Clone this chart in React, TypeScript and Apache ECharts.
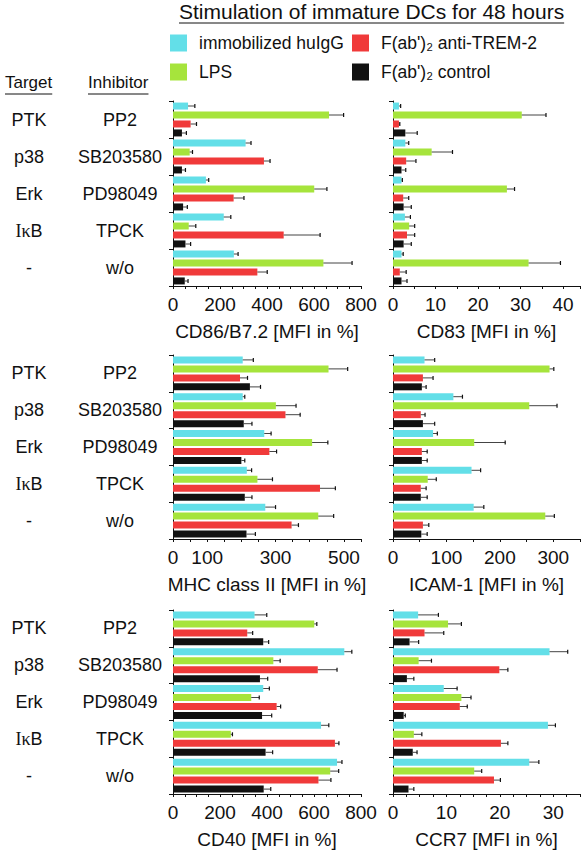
import { useEffect, useRef } from 'react';
import * as echarts from 'echarts';

const FONT = '"Liberation Sans", Arial, Helvetica, sans-serif';

const inhibitors = ['PP2', 'SB203580', 'PD98049', 'TPCK', 'w/o'];
const targets = ['PTK', 'p38', 'Erk', 'IκB', '-'];
const seriesNames = ['immobilized huIgG', 'LPS', "F(ab')₂ anti-TREM-2", "F(ab')₂ control"];
const seriesColors = ['#63dfe8', '#a6e43c', '#f03a3a', '#111111'];

// rows: huIgG, LPS, anti-TREM-2, control ; columns: PP2, SB203580, PD98049, TPCK, w/o
const cd86Mean = [[64, 309, 140, 216, 259], [664, 71, 601, 67, 640], [75, 387, 258, 471, 359], [38, 38, 43, 53, 50]];
const cd86Err = [[29, 23, 12, 30, 18], [62, 12, 54, 30, 122], [25, 26, 44, 155, 42], [19, 15, 18, 22, 14]];
const cd83Mean = [[1.4, 2.9, 2.0, 2.8, 2.0], [30.3, 9.1, 26.8, 3.8, 31.9], [1.4, 3.1, 2.4, 3.3, 1.6], [2.9, 2.0, 2.5, 2.5, 2.0]];
const cd83Err = [[0.4, 0.8, 0.2, 1.3, 0.4], [5.7, 4.9, 1.8, 1.3, 7.5], [0.2, 2.3, 1.3, 1.8, 1.5], [2.8, 1.0, 1.8, 1.8, 1.3]];
const mhcMean = [[204, 204, 267, 216, 270], [455, 301, 407, 247, 425], [196, 329, 282, 430, 347], [225, 207, 200, 210, 215]];
const mhcErr = [[31, 6, 20, 14, 30], [56, 59, 46, 44, 45], [22, 43, 21, 45, 20], [31, 24, 10, 21, 26]];
const icamMean = [[59, 113, 75, 147, 151], [293, 255, 152, 65, 285], [56, 52, 54, 52, 56], [54, 56, 54, 52, 53]];
const icamErr = [[19, 17, 8, 17, 19], [8, 52, 58, 16, 17], [19, 8, 10, 10, 11], [8, 22, 10, 12, 11]];
const cd40Mean = [[347, 729, 384, 630, 698], [601, 427, 333, 246, 669], [316, 616, 441, 689, 619], [384, 370, 379, 394, 386]];
const cd40Err = [[52, 32, 26, 33, 21], [11, 29, 34, 7, 36], [23, 82, 17, 17, 53], [23, 33, 41, 30, 30]];
const ccr7Mean = [[4.7, 29.3, 9.5, 29.0, 25.5], [10.3, 4.8, 12.8, 3.9, 15.2], [5.9, 19.9, 12.5, 20.2, 18.9], [3.1, 2.6, 2.0, 3.7, 2.9]];
const ccr7Err = [[3.8, 3.4, 2.5, 1.4, 1.8], [2.5, 2.4, 1.8, 1.5, 1.4], [3.6, 1.6, 1.4, 1.3, 1.2], [1.7, 1.3, 0.3, 0.8, 1.0]];

const panelMeans = [cd86Mean, cd83Mean, mhcMean, icamMean, cd40Mean, ccr7Mean];
const panelErrs = [cd86Err, cd83Err, mhcErr, icamErr, cd40Err, ccr7Err];
const axisTitles = ['CD86/B7.2 [MFI in %]', 'CD83 [MFI in %]', 'MHC class II [MFI in %]', 'ICAM-1 [MFI in %]', 'CD40 [MFI in %]', 'CCR7 [MFI in %]'];
const axisMax = [800, 44, 550, 350, 800, 35];
const axisStep = [50, 5, 50, 50, 50, 2.5];
const axisShownLabels = [[0, 200, 400, 600, 800], [0, 10, 20, 30, 40], [0, 100, 300, 500], [0, 100, 200, 300], [0, 200, 400, 600, 800], [0, 10, 20, 30]];

const colLeft = [173, 393];
const colWidth = [188, 187];
const rowTop = [101, 355, 610];
const rowHeight = [185, 184, 184];

const BAR_W = 7;
const BAR_STEP = 9;

function textWidth(text: string, size: number): number {
  try {
    const ctx = document.createElement('canvas').getContext('2d');
    if (ctx) {
      ctx.font = `${size}px ${FONT}`;
      return ctx.measureText(text).width;
    }
  } catch (e) {
    /* ignore */
  }
  return text.length * size * 0.5;
}

function buildOption() {
  const grid: any[] = [];
  const xAxis: any[] = [];
  const yAxis: any[] = [];
  const series: any[] = [];

  panelMeans.forEach((means, i) => {
    const col = i % 2;
    const row = Math.floor(i / 2);
    grid.push({ left: colLeft[col], top: rowTop[row], width: colWidth[col], height: rowHeight[row] });
    const shown = axisShownLabels[i];
    xAxis.push({
      type: 'value', gridIndex: i, min: 0, max: axisMax[i], interval: axisStep[i],
      axisLine: { show: true, lineStyle: { color: '#111', width: 1 } },
      axisTick: { show: true, length: 3, lineStyle: { color: '#111' } },
      splitLine: { show: false },
      axisLabel: {
        fontSize: 19, color: '#111', fontFamily: FONT, margin: 9,
        formatter: (v: number) => (shown.some((s) => Math.abs(s - v) < 1e-6) ? String(v) : ''),
      },
      name: axisTitles[i], nameLocation: 'middle', nameGap: 36,
      nameTextStyle: { fontSize: 19, color: '#111', fontFamily: FONT },
    });
    const yIdx = yAxis.length;
    yAxis.push({
      type: 'category', gridIndex: i, data: inhibitors, inverse: true, position: 'left',
      axisLine: { show: true, lineStyle: { color: '#111', width: 1 } },
      axisTick: { show: true, length: 4, lineStyle: { color: '#111' } },
      axisLabel: { show: col === 0, align: 'center', margin: 53, fontSize: 18, color: '#111', fontFamily: FONT },
    });
    if (col === 0) {
      yAxis.push({
        type: 'category', gridIndex: i, data: targets, inverse: true, position: 'left', offset: 0,
        axisLine: { show: false }, axisTick: { show: false },
        axisLabel: {
          align: 'center', margin: 144, fontSize: 18, color: '#111', fontFamily: FONT,
          formatter: (v: string) => (v === 'IκB' ? '{s|Iκ}B' : v),
          rich: { s: { fontFamily: '"Liberation Serif", "Times New Roman", serif', fontSize: 18, color: '#111' } },
        },
      });
    }
    means.forEach((vals, s) => {
      series.push({
        type: 'bar', name: seriesNames[s], xAxisIndex: i, yAxisIndex: yIdx, data: vals,
        barWidth: BAR_W, barGap: '28%', itemStyle: { color: seriesColors[s] }, silent: true,
      });
    });
    means.forEach((vals, s) => {
      const errs = panelErrs[i][s];
      const offset = (s - 1.5) * BAR_STEP;
      series.push({
        type: 'custom', xAxisIndex: i, yAxisIndex: yIdx, silent: true, z: 5,
        encode: { x: 0, y: 1 },
        data: vals.map((m, k) => [m, k, errs[k]]),
        renderItem: (params: any, api: any) => {
          const m = api.value(0);
          const k = api.value(1);
          const e = api.value(2);
          const p0 = api.coord([m, k]);
          const p1 = api.coord([m + e, k]);
          const y = p0[1] + offset;
          return {
            type: 'group',
            children: [
              { type: 'line', shape: { x1: p0[0], y1: y, x2: p1[0], y2: y }, style: { stroke: '#444', lineWidth: 1 } },
              { type: 'line', shape: { x1: p1[0], y1: y - 2, x2: p1[0], y2: y + 2 }, style: { stroke: '#111', lineWidth: 1.2 } },
            ],
          };
        },
      });
    });
  });

  const legendCommon = {
    orient: 'vertical', itemWidth: 17, itemHeight: 17, itemGap: 11, icon: 'rect', selectedMode: false, padding: 0,
    textStyle: { fontSize: 17.5, color: '#111', fontFamily: FONT, padding: [0, 0, 0, 7] },
  };

  const title = 'Stimulation of immature DCs for 48 hours';
  const titleW = textWidth(title, 21);
  const targetW = textWidth('Target', 17);
  const inhibW = textWidth('Inhibitor', 17);

  return {
    animation: false,
    backgroundColor: '#ffffff',
    textStyle: { fontFamily: FONT },
    grid, xAxis, yAxis, series,
    legend: [
      { ...legendCommon, data: [seriesNames[0], seriesNames[1]], left: 170, top: 34 },
      { ...legendCommon, data: [seriesNames[2], seriesNames[3]], left: 352, top: 34 },
    ],
    graphic: [
      { type: 'text', left: 179, top: 1, style: { text: title, fontSize: 21, fill: '#111', fontFamily: FONT } },
      { type: 'line', shape: { x1: 179, y1: 23, x2: 179 + titleW, y2: 23 }, style: { stroke: '#111', lineWidth: 1 } },
      { type: 'text', left: 5, top: 74, style: { text: 'Target', fontSize: 17, fill: '#111', fontFamily: FONT } },
      { type: 'line', shape: { x1: 5, y1: 94, x2: 5 + targetW, y2: 94 }, style: { stroke: '#111', lineWidth: 1 } },
      { type: 'text', left: 88, top: 74, style: { text: 'Inhibitor', fontSize: 17, fill: '#111', fontFamily: FONT } },
      { type: 'line', shape: { x1: 88, y1: 94, x2: 88 + inhibW, y2: 94 }, style: { stroke: '#111', lineWidth: 1 } },
    ],
  };
}

export default function App() {
  const ref = useRef<HTMLDivElement>(null);
  useEffect(() => {
    if (!ref.current) return;
    const chart = echarts.init(ref.current, undefined, { renderer: 'svg' });
    chart.setOption(buildOption() as any);
    return () => chart.dispose();
  }, []);
  return <div ref={ref} style={{ position: 'absolute', left: 0, top: 0, width: 585, height: 853 }} />;
}
